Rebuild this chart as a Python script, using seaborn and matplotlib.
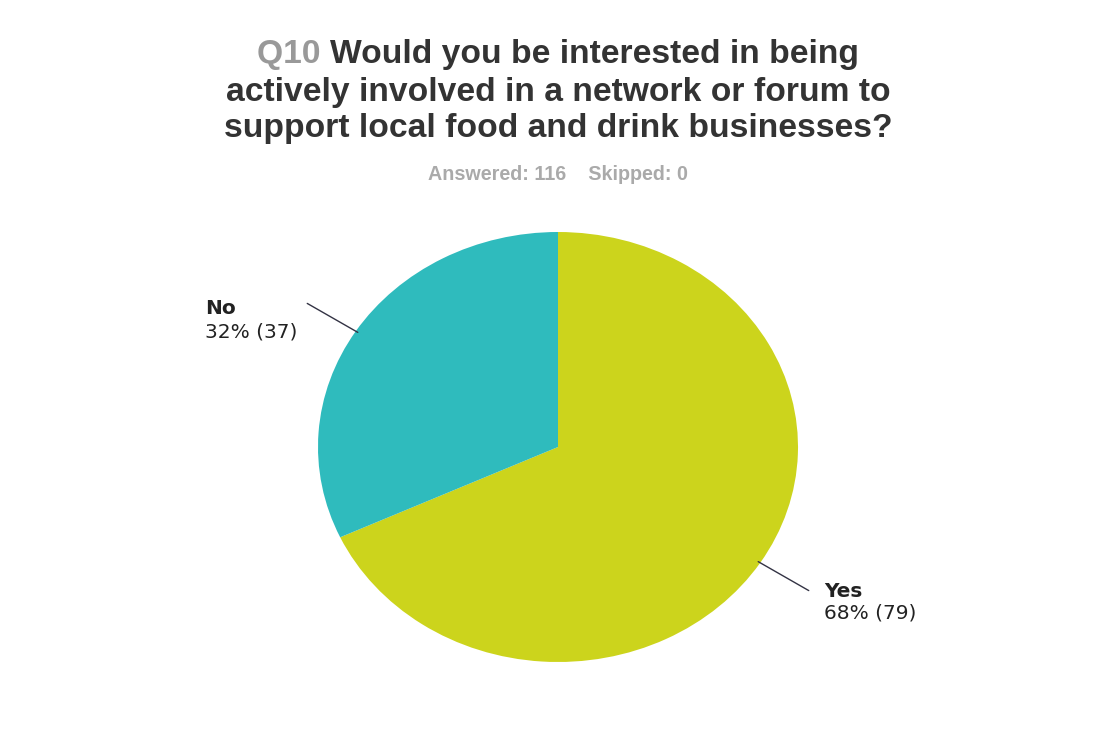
import numpy as np
import matplotlib
matplotlib.use("Agg")
import matplotlib.pyplot as plt
import seaborn as sns

# Survey responses
answers = ["Yes", "No"]
counts = [79, 37]
percent_labels = ["68%", "32%"]
answered = 116
skipped = 0

question_id = "Q10"
question_lines = [
    "Would you be interested in being",
    "actively involved in a network or forum to",
    "support local food and drink businesses?",
]

slice_colors = ["#ccd41c", "#2fbbbd"]

sns.set_theme(style="white")
plt.rcParams["font.family"] = ["DejaVu Sans"]

W, H = 1100, 735
fig = plt.figure(figsize=(W / 100, H / 100), dpi=100)
fig.patch.set_facecolor("white")

# Pie area (slightly wider than tall)
cx, cy, rx, ry = 558, 447, 240, 215
ax = fig.add_axes([(cx - rx) / W, 1 - (cy + ry) / H, 2 * rx / W, 2 * ry / H])
wedges, _ = ax.pie(counts, colors=slice_colors, startangle=90, counterclock=False,
                   wedgeprops=dict(linewidth=0))
ax.set_aspect("auto")
ax.set_xlim(-1, 1)
ax.set_ylim(-1, 1)
ax.axis("off")

fig.canvas.draw()
renderer = fig.canvas.get_renderer()

label_size = 14.5

# Leader lines and labels at each slice's mid-angle
for w, name, pct, n in zip(wedges, answers, percent_labels, counts):
    mid = np.deg2rad((w.theta1 + w.theta2) / 2)
    x0, y0 = np.cos(mid), np.sin(mid)
    x1, y1 = 1.24 * x0, 1.24 * y0
    ax.plot([x0 * 0.99, x1], [y0 * 0.99, y1], color="#333344", lw=1.0, clip_on=False)
    right = x0 > 0
    dx = 11 if right else -7
    name_dy, val_dy = (-7.7, -9.5) if right else (-10.8, -13.8)
    val = ax.annotate(f"{pct} ({n})", xy=(x1, y1), xytext=(dx, val_dy), textcoords="offset points",
                      ha="left" if right else "right", va="top", fontsize=label_size,
                      color="#222222", annotation_clip=False)
    if right:
        name_dx = dx
    else:
        # put the name flush with the left edge of the value line
        bb = val.get_window_extent(renderer)
        anchor_px = ax.transData.transform((x1, y1))[0]
        name_dx = (bb.x0 - anchor_px) * 72 / fig.dpi
    ax.annotate(name, xy=(x1, y1), xytext=(name_dx, name_dy), textcoords="offset points",
                ha="left", va="bottom", fontsize=label_size, fontweight="bold",
                color="#222222", annotation_clip=False)

# Title with a grey question number followed by the dark question text
title_font = dict(family="Liberation Sans", fontweight="bold", fontsize=24.2)
line_y = [55, 92, 129]
first = fig.text(0, 0, question_lines[0], color="#333333", va="center", **title_font)
qid = fig.text(0, 0, question_id + " ", color="#999999", va="center", **title_font)
w_first = first.get_window_extent(renderer).width
w_qid = qid.get_window_extent(renderer).width
x_start = cx - (w_first + w_qid) / 2
qid.set_position((x_start / W, 1 - line_y[0] / H))
first.set_position(((x_start + w_qid) / W, 1 - line_y[0] / H))
for line, y in zip(question_lines[1:], line_y[1:]):
    fig.text(cx / W, 1 - y / H, line, ha="center", va="center", color="#333333", **title_font)

fig.text(cx / W, 1 - 175 / H, f"Answered: {answered}    Skipped: {skipped}",
         ha="center", va="center", color="#aaaaaa", family="Liberation Sans",
         fontweight="bold", fontsize=14.2)

fig.savefig("out.png", dpi=100, facecolor="white")
